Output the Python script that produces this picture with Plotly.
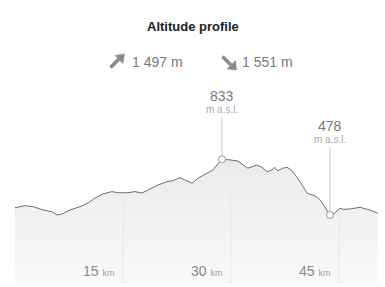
import numpy as np
import plotly.graph_objects as go

# distance (km) and elevation (m a.s.l.)
km = [0, 1.39, 2.5, 3.89, 5.14, 5.83, 6.53, 7.64, 9.03, 10.14, 11.11, 12.22, 13.47, 14.3,
      15.7, 16.67, 17.64, 18.75, 19.86, 21.1, 21.94, 22.9, 23.6, 24.6, 25.4, 26.67, 27.5,
      28.06, 28.75, 29.86, 30.97, 31.67, 32.36, 33.6, 34.3, 35.0, 35.7, 36.1, 36.5, 37.2,
      37.8, 38.5, 39.6, 40.6, 41.7, 42.4, 43.1, 43.75, 44.4, 45.1, 45.6, 46.5, 47.9, 49.3, 50.4]
elev = [524, 537, 531, 510, 499, 478, 484, 510, 531, 554, 586, 612, 627, 620,
        620, 627, 618, 644, 669, 690, 697, 716, 701, 680, 712, 744, 765,
        797, 833, 829, 822, 797, 776, 797, 782, 754, 765, 782, 760, 776,
        782, 760, 690, 616, 599, 574, 521, 478, 489, 521, 514, 516, 527, 510, 489]

ticks_km = [15, 30, 45]
ascent = "1 497 m"
descent = "1 551 m"
title = "Altitude profile"

YMIN, YMAX = 38, 1211
XMAX = 50.7
FONT = "Arial, Liberation Sans, sans-serif"

fig = go.Figure()
fig.add_trace(go.Scatter(
    x=km, y=elev, mode="lines",
    line=dict(color="#6e6e6e", width=1),
    fill="tozeroy",
    fillgradient=dict(type="vertical", start=YMIN, stop=833,
                      colorscale=[[0, "#f9f9f9"], [1, "#ebebeb"]]),
    hoverinfo="skip", showlegend=False,
))

# grid lines up to the profile
shapes = []
for t in ticks_km:
    top = float(np.interp(t, km, elev))
    shapes.append(dict(type="line", xref="x", yref="y", x0=t, x1=t, y0=YMIN, y1=top - 8,
                       line=dict(color="#e9e9e9", width=1), layer="above"))

# highest and lowest points
imax = int(np.argmax(elev))
half = len(elev) // 2
imin = half + int(np.argmin(elev[half:]))
fig.add_trace(go.Scatter(
    x=[km[imax], km[imin]], y=[elev[imax], elev[imin]], mode="markers",
    marker=dict(color="white", size=7, line=dict(color="#9a9a9a", width=1)),
    hoverinfo="skip", showlegend=False,
))

annotations = []
for i, ay, num_shift in [(imax, -50, 63), (imin, -75, 89)]:
    annotations.append(dict(
        x=km[i], y=elev[i], xref="x", yref="y",
        text="m a.s.l.",
        showarrow=True, arrowhead=0, arrowwidth=1, arrowcolor="#cfcfcf",
        ax=0, ay=ay, standoff=4,
        font=dict(family=FONT, size=10, color="#a8a8a8"),
    ))
    annotations.append(dict(
        x=km[i], y=elev[i], xref="x", yref="y", showarrow=False,
        yshift=num_shift, text=f"{elev[i]}",
        font=dict(family=FONT, size=14, color="#7a7a7a"),
    ))

for t in ticks_km:
    annotations.append(dict(
        x=t, y=YMIN, xref="x", yref="y", xanchor="right", yanchor="bottom",
        xshift=-7, yshift=3, showarrow=False,
        text=f"{t} <span style='font-size:9px;color:#a0a0a0'>km</span>",
        font=dict(family=FONT, size=14, color="#8a8a8a"),
    ))

# header: title, ascent, descent (pixel -> paper helpers)
def px(xp):
    return (xp - 15) / 365.0

def py(yp):
    return (284 - yp) / 184.0

annotations.append(dict(x=px(192.5), y=py(26), xref="paper", yref="paper", showarrow=False,
                        xanchor="center", yanchor="middle",
                        text=f"<b>{title}</b>", font=dict(family=FONT, size=13, color="#222222")))
annotations.append(dict(x=px(130), y=py(62), xref="paper", yref="paper", showarrow=False,
                        xanchor="left", yanchor="middle",
                        text=ascent, font=dict(family=FONT, size=14, color="#7a7a7a")))
annotations.append(dict(x=px(240), y=py(62), xref="paper", yref="paper", showarrow=False,
                        xanchor="left", yanchor="middle",
                        text=descent, font=dict(family=FONT, size=14, color="#7a7a7a")))

# arrow icons drawn as paths
def path(points):
    return "M " + " L ".join(f"{px(a):.5f},{py(b):.5f}" for a, b in points) + " Z"

ICON = "#8a8a8a"
# north-east arrow
shapes.append(dict(type="line", xref="paper", yref="paper",
                   x0=px(110.5), y0=py(67.5), x1=px(119), y1=py(59),
                   line=dict(color=ICON, width=3.5)))
shapes.append(dict(type="path", xref="paper", yref="paper",
                   path=path([(124.5, 54), (115, 55.5), (123, 63.5)]),
                   fillcolor=ICON, line=dict(color=ICON, width=0.5)))
# south-east arrow
shapes.append(dict(type="line", xref="paper", yref="paper",
                   x0=px(222.5), y0=py(56.5), x1=px(231), y1=py(65),
                   line=dict(color=ICON, width=3.5)))
shapes.append(dict(type="path", xref="paper", yref="paper",
                   path=path([(236.5, 70), (227, 69), (235.5, 60.5)]),
                   fillcolor=ICON, line=dict(color=ICON, width=0.5)))

fig.update_layout(
    width=385, height=287,
    margin=dict(l=15, r=5, t=100, b=3),
    paper_bgcolor="white", plot_bgcolor="white",
    xaxis=dict(range=[0, XMAX], showgrid=False, zeroline=False, showticklabels=False,
               showline=False, ticks=""),
    yaxis=dict(range=[YMIN, YMAX], showgrid=False, zeroline=False, showticklabels=False,
               showline=False, ticks=""),
    shapes=shapes, annotations=annotations,
)
fig.write_html("out.html")
